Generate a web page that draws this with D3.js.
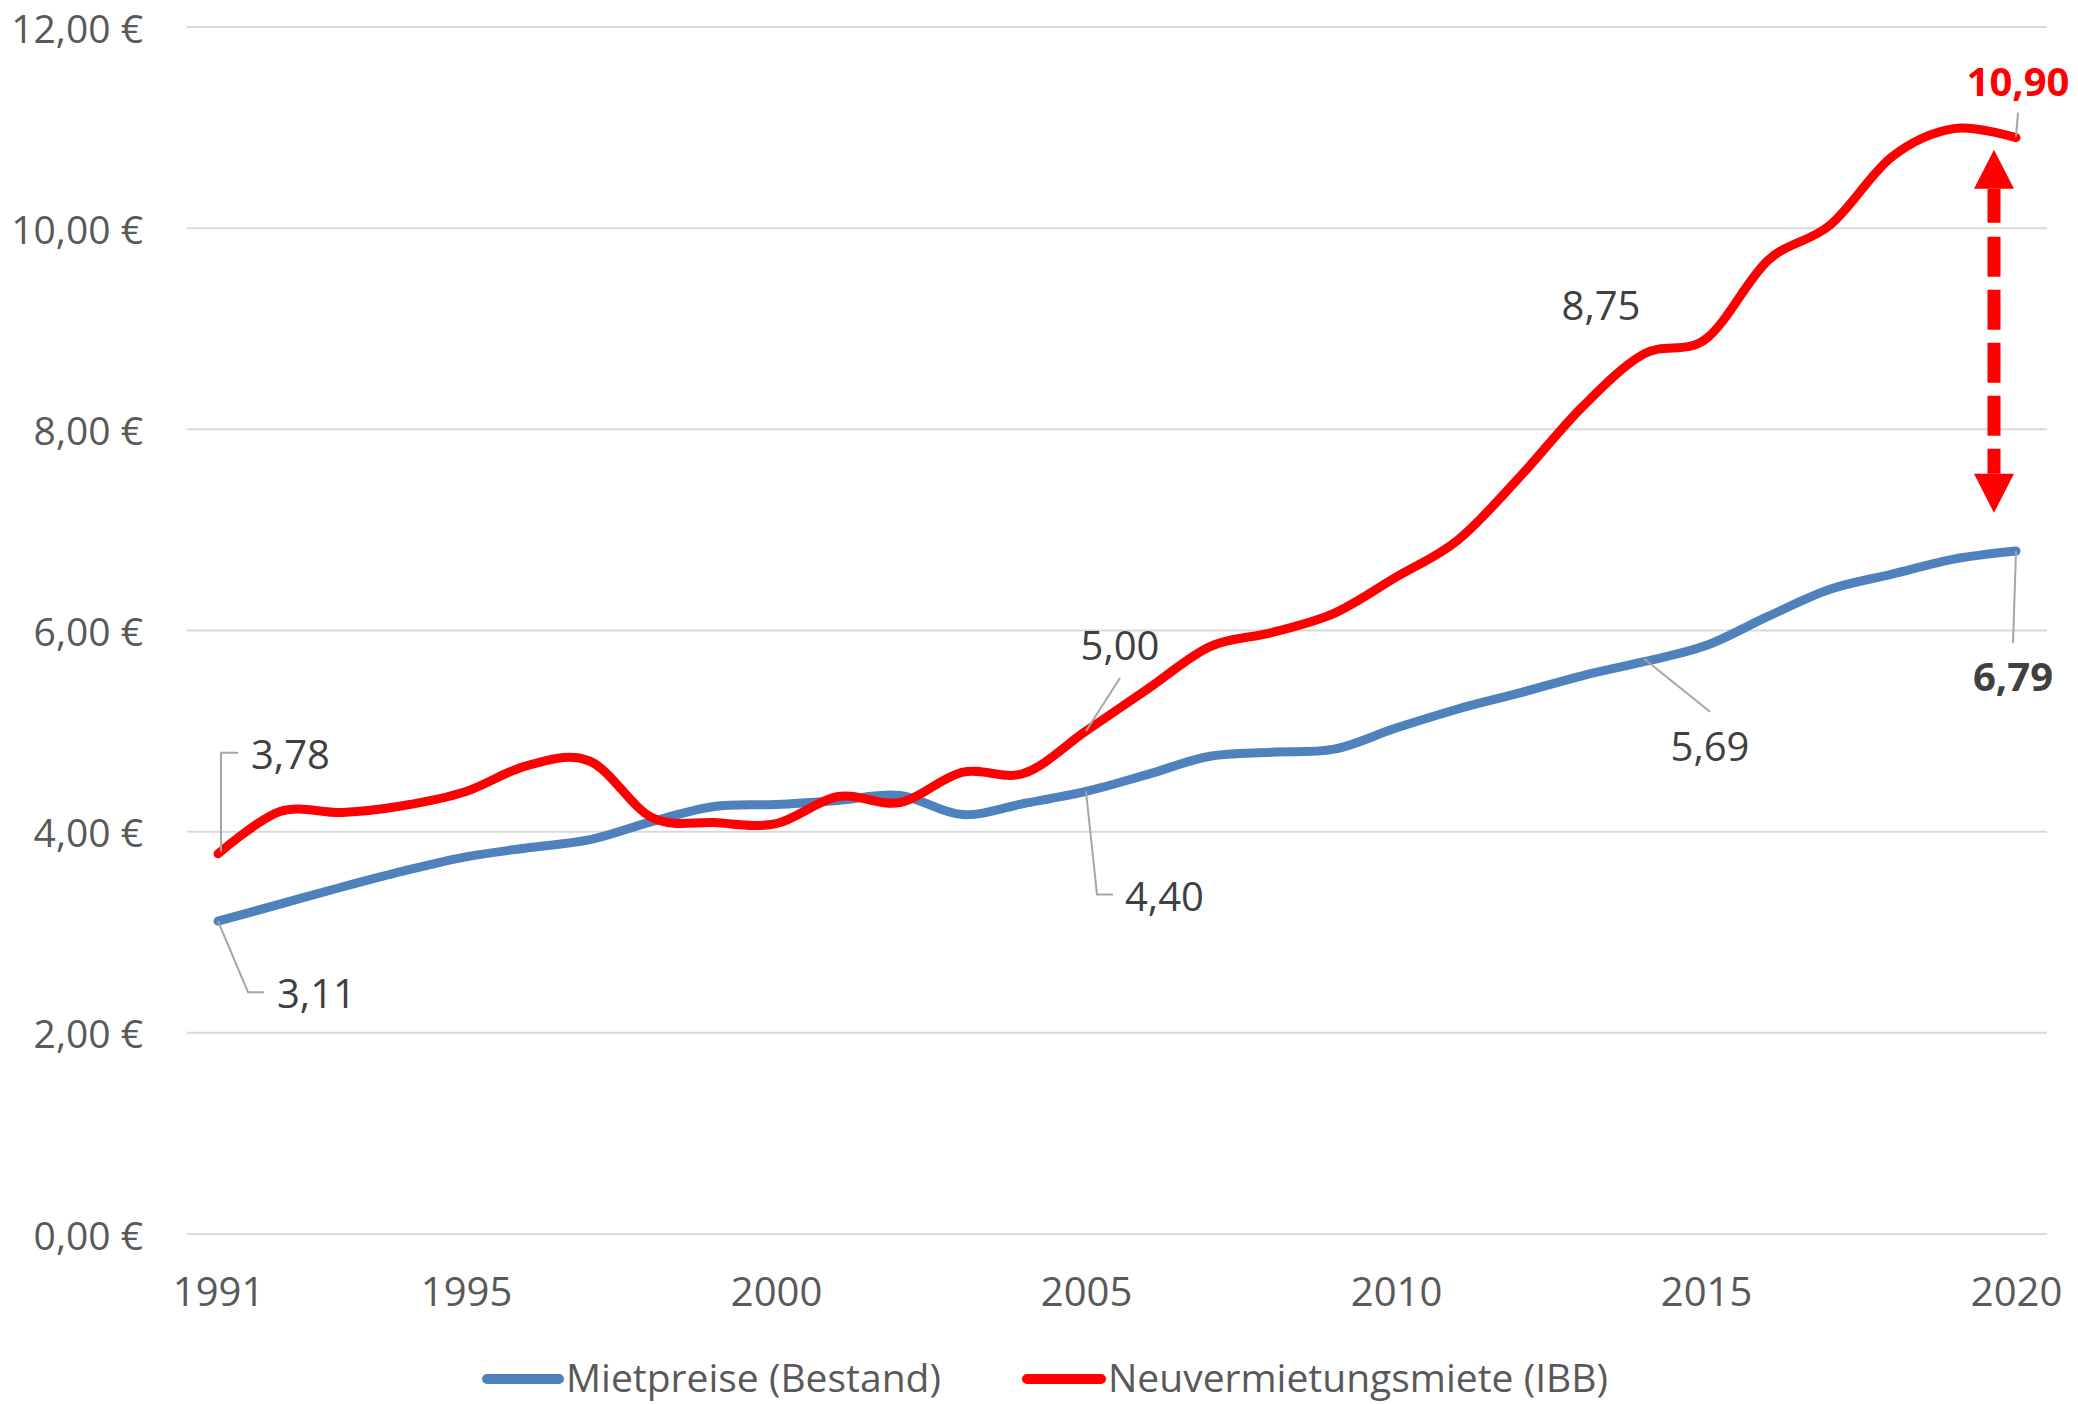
<!DOCTYPE html>
<html>
<head>
<meta charset="utf-8">
<script src="https://cdn.jsdelivr.net/npm/d3@7"></script>
<style>
  html, body { margin: 0; padding: 0; background: #fff; }
  svg { display: block; }
  text { font-family: "Open Sans", "DejaVu Sans", sans-serif; }
</style>
</head>
<body>
<svg id="chart" width="2078" height="1404"></svg>
<script>
// ---------- data ----------
const years = [1991,1992,1993,1994,1995,1996,1997,1998,1999,2000,
               2001,2002,2003,2004,2005,2006,2007,2008,2009,2010,
               2011,2012,2013,2014,2015,2016,2017,2018,2019,2020];
const bestand = [3.11,3.28,3.45,3.61,3.75,3.84,3.92,4.10,4.25,4.27,
                 4.31,4.36,4.17,4.28,4.40,4.57,4.75,4.79,4.82,5.03,
                 5.22,5.38,5.55,5.69,5.85,6.14,6.41,6.56,6.71,6.79];
const neuvermietung = [3.78,4.20,4.19,4.26,4.40,4.66,4.70,4.14,4.09,4.08,
                       4.35,4.29,4.59,4.58,5.00,5.42,5.84,5.98,6.17,6.53,
                       6.90,7.53,8.22,8.75,8.90,9.68,10.03,10.71,10.99,10.90];
const seriesNames = ["Mietpreise (Bestand)", "Neuvermietungsmiete (IBB)"];
const xTickYears = [1991,1995,2000,2005,2010,2015,2020];
const yTickValues = [0,2,4,6,8,10,12];
// data labels: [series index, year, text]
const dataLabels = [
  [1, 1991, "3,78"], [0, 1991, "3,11"], [1, 2005, "5,00"], [0, 2005, "4,40"],
  [1, 2014, "8,75"], [0, 2014, "5,69"], [1, 2020, "10,90"], [0, 2020, "6,79"]
];
// gap arrow range (values)
const arrowRange = [10.78, 7.17];

(function () {
// ---------- setup ----------
const W = 2078, H = 1404;
const pL = 187, pR = 2047, pT = 27, pB = 1234;
const colors = ["#4F81BD", "#FF0000"];
const series = [bestand, neuvermietung];

const svg = d3.select("#chart");
svg.append("rect").attr("width", W).attr("height", H).attr("fill", "#fff");

const x = d3.scalePoint().domain(years).range([pL, pR]).padding(0.5);
const y = d3.scaleLinear().domain([0, 12]).range([pB, pT]);

const loc = d3.formatLocale({decimal: ",", thousands: ".", grouping: [3], currency: ["", " €"]});
const fmtY = loc.format("$.2f");

// gridlines
svg.append("g")
  .selectAll("line")
  .data(yTickValues)
  .join("line")
  .attr("x1", pL).attr("x2", pR)
  .attr("y1", d => y(d)).attr("y2", d => y(d))
  .attr("stroke", "#d9d9d9").attr("stroke-width", 2);

// y axis
const yAxis = svg.append("g")
  .attr("transform", `translate(${pL},0)`)
  .call(d3.axisLeft(y).tickValues(yTickValues).tickFormat(fmtY).tickSize(0).tickPadding(44));
yAxis.select(".domain").remove();
yAxis.selectAll("text").attr("font-size", 39).attr("fill", "#595959")
  .attr("dy", "0.385em")
  .attr("font-family", "'Open Sans', sans-serif");

// x axis
const xAxis = svg.append("g")
  .attr("transform", `translate(0,${pB})`)
  .call(d3.axisBottom(x).tickValues(xTickYears).tickFormat(d => String(d)).tickSize(0).tickPadding(44));
xAxis.select(".domain").remove();
xAxis.selectAll("text").attr("font-size", 40).attr("fill", "#595959")
  .attr("font-family", "'Open Sans', sans-serif");

// lines
const line = d3.line()
  .x((d, i) => x(years[i]))
  .y(d => y(d))
  .curve(d3.curveCardinal.tension(0));

series.forEach((s, k) => {
  svg.append("path")
    .datum(s)
    .attr("d", line)
    .attr("fill", "none")
    .attr("stroke", colors[k])
    .attr("stroke-width", 9)
    .attr("stroke-linecap", "round")
    .attr("stroke-linejoin", "round");
});

// data labels with leader lines (offsets are layout, relative to the point)
const labelLayout = {
  "3,78":  {dx: 33,  dy: -99,  anchor: "start",  leader: [[3,-2],[3,-101],[20,-101]], bold: false, color: "#404040"},
  "3,11":  {dx: 59,  dy: 72,   anchor: "start",  leader: [[0,0],[30,71],[46,71]], bold: false, color: "#404040"},
  "5,00":  {dx: 34,  dy: -85,  anchor: "middle", leader: [[0,0],[34,-53]], bold: false, color: "#404040"},
  "4,40":  {dx: 39,  dy: 105,  anchor: "start",  leader: [[0,0],[11,103],[27,103]], bold: false, color: "#404040"},
  "8,75":  {dx: -43, dy: -48,  anchor: "middle", leader: null, bold: false, color: "#404040"},
  "5,69":  {dx: 66,  dy: 85,   anchor: "middle", leader: [[0,-3],[66,50]], bold: false, color: "#404040"},
  "10,90": {dx: 2,   dy: -56,  anchor: "middle", leader: [[0,-1],[2,-25]], bold: true, color: "#FF0000"},
  "6,79":  {dx: -3,  dy: 126,  anchor: "middle", leader: [[0,0],[-3,92]], bold: true, color: "#404040"}
};

const lg = svg.append("g");
dataLabels.forEach(([si, yr, txt]) => {
  const idx = years.indexOf(yr);
  const px = x(yr), py = y(series[si][idx]);
  const L = labelLayout[txt];
  if (L.leader) {
    lg.append("polyline")
      .attr("points", L.leader.map(p => `${px + p[0]},${py + p[1]}`).join(" "))
      .attr("fill", "none").attr("stroke", "#a6a6a6").attr("stroke-width", 2);
  }
  lg.append("text")
    .attr("x", px + L.dx).attr("y", py + L.dy)
    .attr("dy", "0.36em")
    .attr("text-anchor", L.anchor)
    .attr("font-size", 40)
    .attr("font-weight", L.bold ? 700 : 400)
    .attr("fill", L.color)
    .text(txt);
});

// gap arrow (double-headed, dashed)
const ax = x(2020) - 22;
const yTop = y(arrowRange[0]), yBot = y(arrowRange[1]);
const headH = 39, headW = 20;
const ag = svg.append("g").attr("fill", "#FF0000");
ag.append("line")
  .attr("x1", ax).attr("x2", ax)
  .attr("y1", yTop + headH).attr("y2", yBot - headH)
  .attr("stroke", "#FF0000").attr("stroke-width", 13)
  .attr("stroke-dasharray", "34,14,40,13,40,13,40,13,40,13,40,14");
ag.append("path").attr("d", `M${ax},${yTop} L${ax + headW},${yTop + headH} L${ax - headW},${yTop + headH} Z`);
ag.append("path").attr("d", `M${ax},${yBot} L${ax + headW},${yBot - headH} L${ax - headW},${yBot - headH} Z`);

// legend
const legendY = 1379;
const legendItems = [
  {x0: 487, x1: 559, tx: 566},
  {x0: 1027, x1: 1101, tx: 1108}
];
seriesNames.forEach((name, k) => {
  const it = legendItems[k];
  svg.append("line")
    .attr("x1", it.x0).attr("x2", it.x1)
    .attr("y1", legendY).attr("y2", legendY)
    .attr("stroke", colors[k]).attr("stroke-width", 10)
    .attr("stroke-linecap", "round");
  svg.append("text")
    .attr("x", it.tx).attr("y", legendY)
    .attr("dy", "0.33em")
    .attr("font-size", 39)
    .attr("fill", "#595959")
    .text(name);
});
})();
</script>
</body>
</html>
